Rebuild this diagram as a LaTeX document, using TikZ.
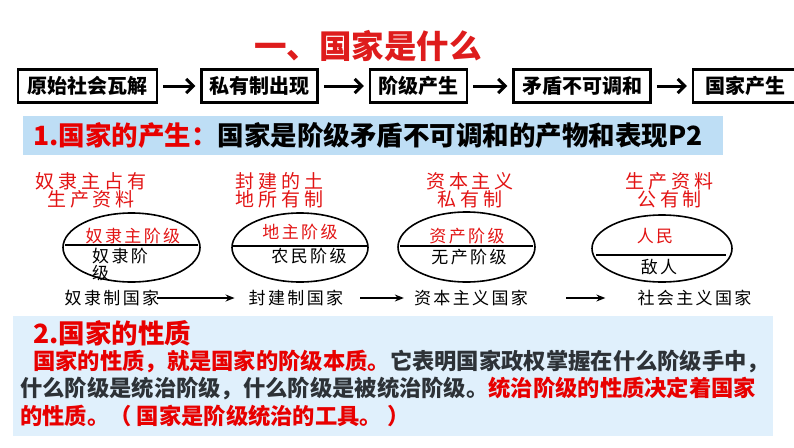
\documentclass[tikz,border=0pt]{standalone}
\usepackage{fontspec}
\usepackage{tikz}
\usetikzlibrary{shapes.geometric, arrows.meta, positioning, calc}
\newfontfamily\cjkfont{Noto Sans CJK SC}
\newfontfamily\cjkwide[LetterSpace=20]{Noto Sans CJK SC}
\newfontfamily\cjkmid[LetterSpace=14]{Noto Sans CJK SC}
\definecolor{titlered}{RGB}{222,28,28}
\definecolor{labelred}{RGB}{226,20,20}
\definecolor{textred}{RGB}{232,0,0}
\definecolor{textdark}{RGB}{45,50,55}
\definecolor{barblue}{RGB}{190,222,245}
\definecolor{boxblue}{RGB}{224,240,252}
\tikzset{
    stage_box/.style={rectangle, draw, line width=2.5pt, minimum height=33pt, inner xsep=6pt, font=\cjkfont\bfseries\fontsize{20pt}{24pt}\selectfont},
    stage_arrow/.style={-{Straight Barb[length=7pt, width=14pt]}, line width=3pt, shorten <=5pt, shorten >=5pt},
    owner_label/.style={text=labelred, align=center, inner sep=0pt, font=\cjkwide\fontsize{19pt}{18pt}\selectfont},
    class_oval/.style={ellipse, draw, line width=1.6pt, inner sep=0pt},
    chord/.style={line width=1.4pt},
    class_text/.style={inner sep=0pt, font=\cjkmid\fontsize{17pt}{15.5pt}\selectfont},
    state_text/.style={inner sep=0pt, font=\cjkmid\fontsize{17pt}{18pt}\selectfont},
    state_arrow/.style={-{Stealth[length=9pt, width=7pt]}, line width=1.3pt},
    body_line/.style={anchor=west, inner sep=0pt, text=textdark, font=\cjkfont\bfseries\fontsize{22.3pt}{26pt}\selectfont}
}
\begin{document}
\begin{tikzpicture}[x=1pt, y=-1pt]
    \useasboundingbox (0,0) rectangle (794,447);

    % title and the chain of stages
    \node (title) [text=titlered, font=\cjkfont\bfseries\fontsize{32.5pt}{36pt}\selectfont] at (368,46) {一、国家是什么};
    \node (box1) [stage_box, minimum width=139pt] at (87.5,86) {原始社会瓦解};
    \node (box2) [stage_box, minimum width=116pt, right=42pt of box1] {私有制出现};
    \node (box3) [stage_box, minimum width=97pt, right=50pt of box2] {阶级产生};
    \node (box4) [stage_box, minimum width=137pt, right=44pt of box3] {矛盾不可调和};
    \node (box5) [stage_box, minimum width=105pt, right=40pt of box4] {国家产生};

    \draw [stage_arrow] (box1) -- (box2);
    \draw [stage_arrow] (box2) -- (box3);
    \draw [stage_arrow] (box3) -- (box4);
    \draw [stage_arrow] (box4) -- (box5);

    % 1. origin of the state
    \node (bar1) [anchor=west, fill=barblue, text width=680pt, inner xsep=10pt, minimum height=39pt, align=left, font=\cjkfont\bfseries\fontsize{26.5pt}{30pt}\selectfont] at (23,135.5) {\textcolor{textred}{1.国家的产生：}国家是阶级矛盾不可调和的产物和表现P2};

    \node (own1) [owner_label] at (91,190.5) {奴隶主占有\\生产资料};
    \node (own2) [owner_label] at (279.5,190.5) {封建的土\\地所有制};
    \node (own3) [owner_label] at (470,190.5) {资本主义\\私有制};
    \node (own4) [owner_label] at (669.5,190.5) {生产资料\\公有制};

    \node (e1) [class_oval, minimum width=137pt, minimum height=69pt] at (131.5,247.5) {};
    \node (e2) [class_oval, minimum width=136pt, minimum height=69pt] at (300,247.5) {};
    \node (e3) [class_oval, minimum width=137pt, minimum height=70pt] at (466.5,247) {};
    \node (e4) [class_oval, minimum width=140pt, minimum height=67pt] at (662,248.5) {};

    \draw [chord] ($(e1.west)+(3,-2.5)$) -- ($(e1.east)+(-3,-2.5)$);
    \draw [chord] ($(e2.west)+(2,-1.5)$) -- ($(e2.east)+(-2,-1.5)$);
    \draw [chord] ($(e3.west)+(3,-1)$) -- ($(e3.east)+(-3,-1)$);
    \draw [chord] ($(e4.center)+(-66,6.5)$) -- ($(e4.center)+(64,6.5)$);

    \node (cr1) [class_text, text=labelred] at (133,236) {奴隶主阶级};
    \node (cb1) [class_text, anchor=north west, align=left] at (92,248) {奴隶阶\\级};
    \node (cr2) [class_text, text=labelred] at (300,232) {地主阶级};
    \node (cb2) [class_text] at (309,256) {农民阶级};
    \node (cr3) [class_text, text=labelred] at (467,236) {资产阶级};
    \node (cb3) [class_text] at (469,257) {无产阶级};
    \node (cr4) [class_text, text=labelred] at (655,236) {人民};
    \node (cb4) [class_text] at (659,267) {敌人};

    \node (s1) [state_text] at (112,298) {奴隶制国家};
    \node (s2) [state_text] at (296,298) {封建制国家};
    \node (s3) [state_text] at (471,298) {资本主义国家};
    \node (s4) [state_text] at (694.5,298) {社会主义国家};

    \draw [state_arrow, shorten <=-2pt, shorten >=14pt] (s1) -- (s2);
    \draw [state_arrow, shorten <=17pt, shorten >=10pt] (s2) -- (s3);
    \draw [state_arrow, shorten <=38pt, shorten >=32pt] (s3) -- (s4);

    % 2. nature of the state
    \node (bar2) [anchor=north west, fill=boxblue, minimum width=760pt, minimum height=120pt, inner sep=0pt] at (13,316) {};
    \node (head2) [body_line, text=textred, font=\cjkfont\bfseries\fontsize{26.5pt}{30pt}\selectfont] at (33,333) {2.国家的性质};
    \node (line1) [body_line] at (33,362) {\textcolor{textred}{国家的性质，就是国家的阶级本质。}它表明国家政权掌握在什么阶级手中，};
    \node (line2) [body_line] at (20,389) {什么阶级是统治阶级，什么阶级是被统治阶级。\textcolor{textred}{统治阶级的性质决定着国家}};
    \node (line3) [body_line, text=textred] at (20,416) {的性质。（ 国家是阶级统治的工具。 ）};
\end{tikzpicture}
\end{document}
